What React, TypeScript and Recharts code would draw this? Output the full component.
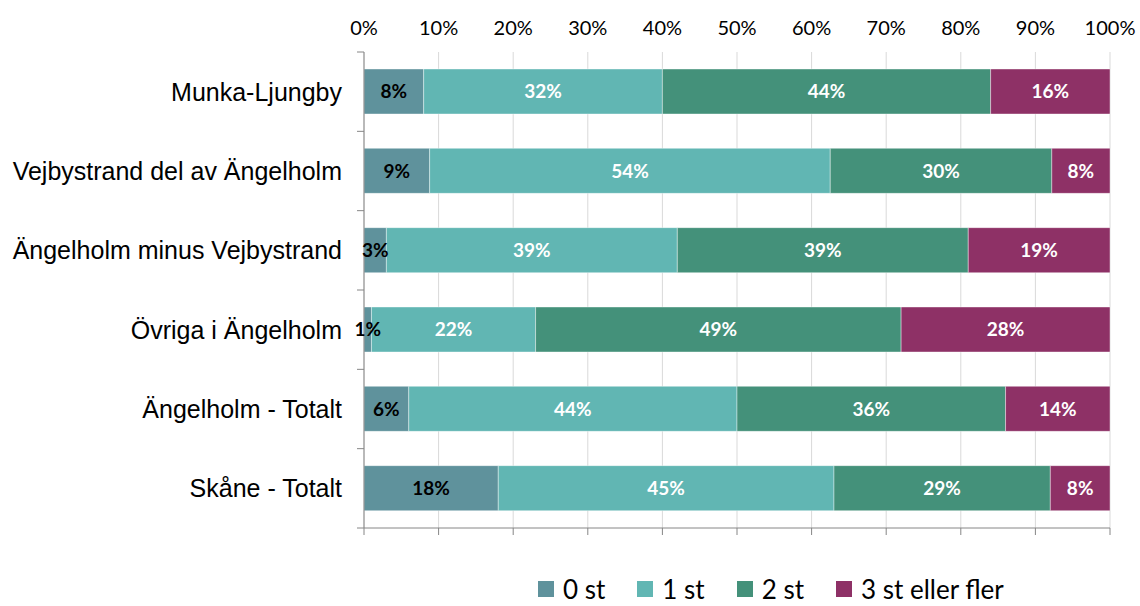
import React from "react";
import {
  BarChart,
  Bar,
  XAxis,
  YAxis,
  CartesianGrid,
  Legend,
  LabelList,
  ReferenceLine,
} from "recharts";

const categories = [
  "Munka-Ljungby",
  "Vejbystrand del av Ängelholm",
  "Ängelholm minus Vejbystrand",
  "Övriga i Ängelholm",
  "Ängelholm - Totalt",
  "Skåne - Totalt",
];

const seriesNames = ["0 st", "1 st", "2 st", "3 st eller fler"];
const noll = [8, 8.8, 3, 1, 6, 18];
const ett = [32, 53.7, 39, 22, 44, 45];
const tva = [44, 29.7, 39, 49, 36, 29];
const tre = [16, 7.8, 19, 28, 14, 8];
const pctTicks = [0, 0.1, 0.2, 0.3, 0.4, 0.5, 0.6, 0.7, 0.8, 0.9, 1];

const colors = ["#5f929c", "#61b6b3", "#44917a", "#8e3166"];
const AXIS = "#868686";
const GRID = "#d9d9d9";
const CALIBRI = "Lato, 'Open Sans', sans-serif";

const data = categories.map((name, i) => ({
  name,
  s0: noll[i],
  s1: ett[i],
  s2: tva[i],
  s3: tre[i],
}));

// plot area top/bottom, used for the axis tick marks
const PLOT_TOP = 52;
const PLOT_BOTTOM = 528;
const BAND = (PLOT_BOTTOM - PLOT_TOP) / categories.length;
const LEGEND_H = 34;

const CategoryTick = (props: any) => {
  const { x, y, payload, index } = props;
  const half = BAND / 2;
  const axisX = x + 22;
  return (
    <g>
      <text
        x={x}
        y={y}
        dy="0.36em"
        textAnchor="end"
        fill="#000"
        style={{ fontFamily: "'Liberation Sans', Arial, sans-serif", fontSize: 25 }}
      >
        {payload.value}
      </text>
      <line x1={axisX - 7} x2={axisX} y1={y - half} y2={y - half} stroke={AXIS} />
      {index === categories.length - 1 && (
        <line x1={axisX - 7} x2={axisX} y1={y + half} y2={y + half} stroke={AXIS} />
      )}
    </g>
  );
};

// top labels, plus the small tick marks under the bottom axis line
const PctTick = (props: any) => {
  const { x, y, payload } = props;
  return (
    <g>
      <text
        x={x}
        y={y}
        textAnchor="middle"
        fill="#000"
        style={{ fontFamily: CALIBRI, fontSize: 20 }}
      >
        {`${Math.round(payload.value * 100)}%`}
      </text>
      <line x1={x} x2={x} y1={PLOT_BOTTOM} y2={PLOT_BOTTOM + 7} stroke={AXIS} />
    </g>
  );
};

const renderLegend = () => (
  <div
    style={{
      display: "flex",
      alignItems: "center",
      height: LEGEND_H,
      paddingLeft: 538,
      fontFamily: CALIBRI,
      fontSize: 26,
      lineHeight: `${LEGEND_H}px`,
      color: "#000",
    }}
  >
    {seriesNames.map((n, i) => (
      <div
        key={n}
        style={{
          display: "flex",
          alignItems: "center",
          marginRight: i < 3 ? 32 : 0,
          whiteSpace: "nowrap",
        }}
      >
        <span
          style={{
            display: "inline-block",
            width: 16,
            height: 16,
            background: colors[i],
            marginRight: 9,
          }}
        />
        <span>{n}</span>
      </div>
    ))}
  </div>
);

const fmt = (v: any) => `${Math.round(Number(v))}%`;

export default function App() {
  const keys = ["s0", "s1", "s2", "s3"];
  return (
    <div style={{ position: "absolute", left: 0, top: 0 }}>
      <BarChart
        width={1140}
        height={606}
        data={data}
        layout="vertical"
        stackOffset="expand"
        margin={{ top: 0, right: 30, left: 0, bottom: 606 - PLOT_BOTTOM - LEGEND_H }}
      >
        <CartesianGrid horizontal={false} stroke={GRID} xAxisId="top" />
        <XAxis
          xAxisId="top"
          orientation="top"
          type="number"
          domain={[0, 1]}
          ticks={pctTicks}
          axisLine={false}
          tickLine={false}
          tickSize={0}
          tickMargin={17}
          height={PLOT_TOP}
          interval={0}
          tick={<PctTick />}
        />
        <YAxis
          type="category"
          dataKey="name"
          width={364}
          tickLine={false}
          tickSize={7}
          tickMargin={15}
          stroke={AXIS}
          interval={0}
          tick={<CategoryTick />}
        />
        <Legend
          verticalAlign="bottom"
          content={renderLegend}
          wrapperStyle={{ left: 0, bottom: 0, width: 1140 }}
        />
        {keys.map((k, i) => (
          <Bar
            key={k}
            dataKey={k}
            name={seriesNames[i]}
            xAxisId="top"
            stackId="a"
            fill={colors[i]}
            stroke="rgba(255,255,255,0.4)"
            strokeWidth={1}
            barSize={45}
            isAnimationActive={false}
          >
            <LabelList
              dataKey={k}
              position="center"
              formatter={fmt}
              fill={i === 0 ? "#000" : "#fff"}
              style={{ fontFamily: CALIBRI, fontWeight: 700, fontSize: 19 }}
            />
          </Bar>
        ))}
        <ReferenceLine
          xAxisId="top"
          y={categories[categories.length - 1]}
          position="end"
          stroke={AXIS}
        />
      </BarChart>
    </div>
  );
}
